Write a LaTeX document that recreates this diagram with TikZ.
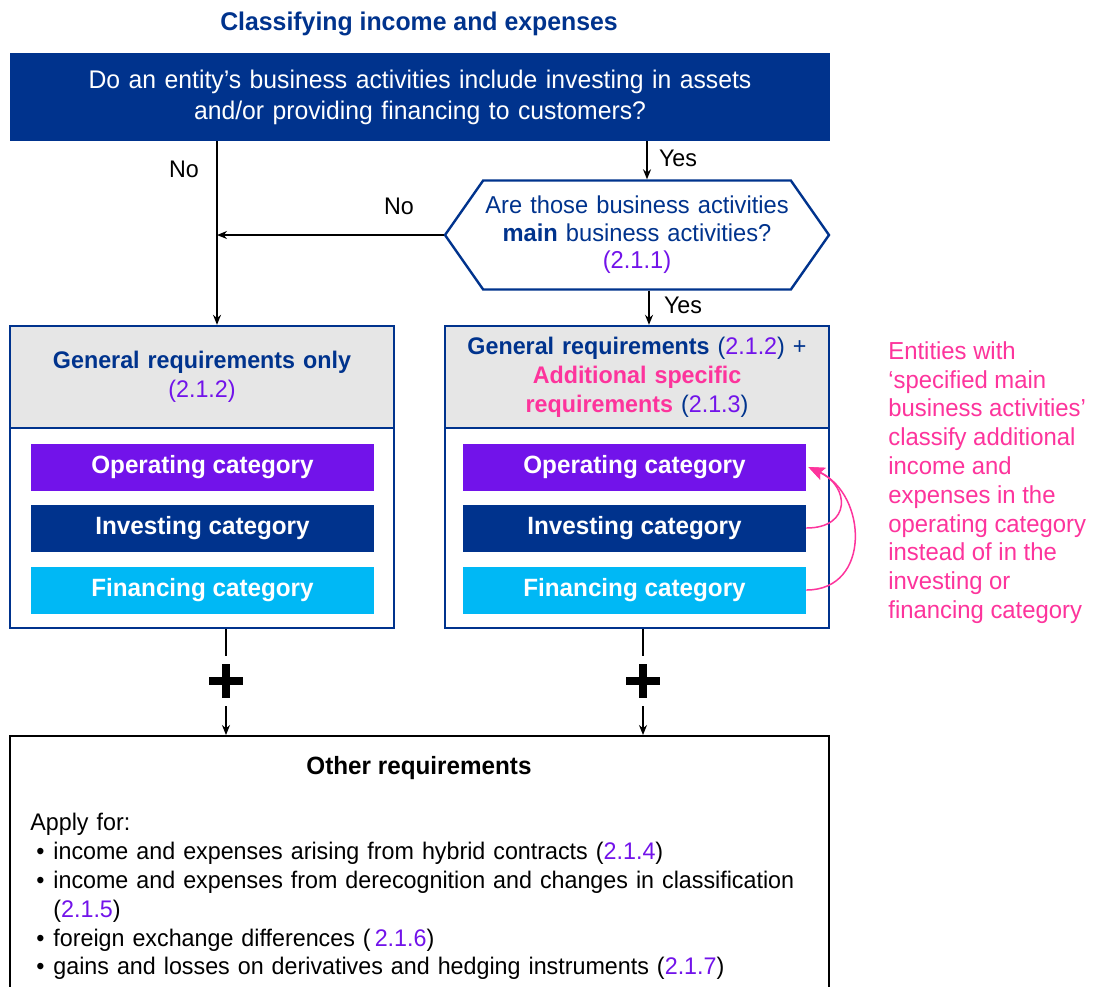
\documentclass[tikz,border=0pt]{standalone}
\usepackage{fontspec}
\setmainfont{Liberation Sans}[FakeStretch=0.97]
\usetikzlibrary{arrows.meta,shapes.symbols}

\definecolor{kblue}{RGB}{0,51,141}
\definecolor{kpurple}{RGB}{114,19,234}
\definecolor{kcyan}{RGB}{0,184,245}
\definecolor{kpink}{RGB}{253,52,156}
\definecolor{hdgrey}{RGB}{230,230,230}
\newcommand{\secref}[1]{\textcolor{kpurple}{#1}}

\tikzset{
  flow/.style={draw=black, line width=0.7pt, -{Stealth[length=5pt,width=4pt]}},
  lbl/.style={inner sep=0pt, font=\fontsize{12}{14}\selectfont},
  topq/.style={fill=kblue, text=white, minimum width=410pt, minimum height=44pt,
    text width=390pt, align=center, font=\fontsize{12.75}{15.5}\selectfont},
  hexq/.style={shape=signal, signal to=west and east, signal pointer angle=110,
    draw=kblue, line width=1.2pt, minimum width=192pt, minimum height=54.5pt,
    text width=156pt, align=center, text=kblue, inner ysep=0pt, inner xsep=-3pt,
    font=\fontsize{12.2}{13.75}\selectfont},
  hdr/.style={fill=hdgrey, draw=kblue, line width=1.2pt, minimum width=192pt,
    minimum height=51pt, text width=180pt, align=center, text=kblue,
    font=\fontsize{12}{14.5}\selectfont},
  panel/.style={draw=kblue, line width=1.2pt, minimum width=192pt, minimum height=151pt},
  catbar/.style={minimum width=171.5pt, minimum height=23.5pt, text=white,
    font=\fontsize{12.5}{14}\selectfont\bfseries},
  plus/.style={minimum size=17pt, inner sep=0pt, path picture={
    \fill[black] ([xshift=-2pt]path picture bounding box.north) rectangle ([xshift=2pt]path picture bounding box.south);
    \fill[black] ([yshift=-2pt]path picture bounding box.west) rectangle ([yshift=2pt]path picture bounding box.east);}},
  pinkarr/.style={draw=kpink, line width=0.75pt, -{Stealth[length=8pt,width=6.5pt,inset=1.5pt]}},
}

\begin{document}
\begin{tikzpicture}[x=0.5pt, y=-0.5pt]
  \useasboundingbox[fill=white] (0,0) rectangle (1096,986);

  % title and first question
  \node[text=kblue, font=\fontsize{12.8}{15}\selectfont\bfseries] (title) at (419,24) {Classifying income and expenses};
  \node[topq] (q1) at (420,97) {Do an entity’s business activities include investing in assets\\and/or providing financing to customers?};
  \node[hexq] (q2) at (637,235) {Are those business activities\\{\bfseries main} business activities?\\\secref{(2.1.1)}};

  % the two panels
  \node[hdr] (hdL) at (202,377) {{\bfseries General requirements only}\\\secref{(2.1.2)}};
  \node[panel] (genL) at (202,477) {};
  \node[hdr] (hdR) at (637,377) {{\bfseries General requirements} (\secref{2.1.2}) +\\
    {\bfseries\color{kpink}Additional specific}\\{\bfseries\color{kpink}requirements} (\secref{2.1.3})};
  \node[panel] (genR) at (637,477) {};

  \node[catbar, fill=kpurple] (opL) at (202.5,467) {Operating category};
  \node[catbar, fill=kblue] (invL) at (202.5,528) {Investing category};
  \node[catbar, fill=kcyan] (finL) at (202.5,590) {Financing category};
  \node[catbar, fill=kpurple] (opR) at (634.5,467) {Operating category};
  \node[catbar, fill=kblue] (invR) at (634.5,528) {Investing category};
  \node[catbar, fill=kcyan] (finR) at (634.5,590) {Financing category};

  % side note
  \node[anchor=north west, inner sep=0pt, text=kpink, align=left,
    font=\fontsize{12.3}{14.4}\selectfont] (note) at (888,341)
    {Entities with\\‘specified main\\business activities’\\classify additional\\income and\\expenses in the\\operating category\\instead of in the\\investing or\\financing category};

  % connectors
  \coordinate (stemX) at (217,0);
  \coordinate (yesX) at (647,0);
  \draw[flow] (q1.south -| stemX) -- (hdL.north -| stemX);
  \draw[flow] (q2.west) -- (q2.west -| stemX);
  \draw[flow] (q1.south -| yesX) -- (q2.north -| yesX);
  \draw[flow] ([xshift=1pt]q2.south -| yesX) -- ([xshift=1pt]hdR.north -| yesX);
  \node[lbl] (noA) at (184,169) {No};
  \node[lbl] (noB) at (399,206) {No};
  \node[lbl] (yesA) at (678,158) {Yes};
  \node[lbl] (yesB) at (683,305) {Yes};

  \draw[pinkarr] (invR.east) to[out=0, in=-25, looseness=1.9] ([xshift=1pt]opR.east);
  \draw[pinkarr] (finR.east) to[out=0, in=-25, looseness=1.35] ([xshift=1pt]opR.east);

  % other requirements
  \node[plus] (plusL) at (226,681) {};
  \node[plus] (plusR) at (643,681) {};
  \node[draw=black, line width=1.2pt, minimum width=409.5pt, minimum height=150pt,
    anchor=north] (other) at (419.5,735) {};
  \draw[line width=0.7pt] (genL.south -| plusL) -- ([yshift=4pt]plusL.north);
  \draw[line width=0.7pt] (genR.south -| plusR) -- ([yshift=4pt]plusR.north);
  \draw[flow] ([yshift=-4pt]plusL.south) -- (other.north -| plusL);
  \draw[flow] ([yshift=-4pt]plusR.south) -- (other.north -| plusR);

  \node[font=\fontsize{12.5}{15}\selectfont\bfseries] (othT) at (419,768) {Other requirements};
  \node[anchor=north west, inner sep=0pt, text width=395pt,
    font=\fontsize{12}{14.4}\selectfont] (apply) at (30,813)
    {\raggedright Apply for:\par
     \hangindent=11.5pt\hangafter=1\hspace*{3pt}\makebox[8.5pt][l]{\textbullet}income and expenses arising from hybrid contracts (\secref{2.1.4})\par
     \hangindent=11.5pt\hangafter=1\hspace*{3pt}\makebox[8.5pt][l]{\textbullet}income and expenses from derecognition and changes in classification (\secref{2.1.5})\par
     \hangindent=11.5pt\hangafter=1\hspace*{3pt}\makebox[8.5pt][l]{\textbullet}foreign exchange differences (\,\secref{2.1.6})\par
     \hangindent=11.5pt\hangafter=1\hspace*{3pt}\makebox[8.5pt][l]{\textbullet}gains and losses on derivatives and hedging instruments (\secref{2.1.7})\par};
\end{tikzpicture}
\end{document}
